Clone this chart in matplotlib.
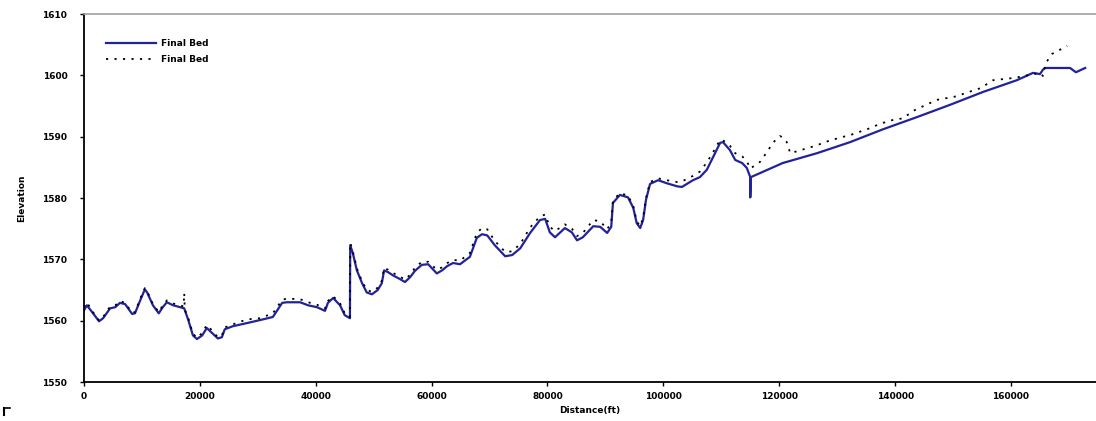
import matplotlib
matplotlib.use("Agg")
import matplotlib.pyplot as plt
from matplotlib.lines import Line2D

# ---------------- data ----------------
bed1_dist = [0, 500, 1400, 2600, 3300, 4500, 5400, 6200, 7100, 8300, 8800, 9700, 10500, 10900,
             11900, 12900, 13600, 14300, 15400, 16600, 17300, 18000, 18800, 19500, 20400, 21200,
             22100, 23100, 23800, 24300, 25700, 28100, 30400, 32600, 34200, 35000, 37300, 38700,
             40200, 41600, 42100, 43000, 44200, 45000, 45900, 45950, 46400, 47100, 48000, 48800,
             49700, 50700, 51400, 51800, 52500, 53300, 54500, 55400, 56300, 57100, 58300, 59400,
             60200, 60900, 61800, 62700, 63700, 64900, 66600, 67800, 68700, 69600, 70900, 72700,
             73900, 75300, 77000, 78700, 79600, 80400, 81300, 83000, 84200, 85100, 86100, 87900,
             89100, 90300, 91000, 91300, 92500, 93900, 94800, 95400, 96000, 96500, 97000, 97700,
             99100, 100600, 102400, 103200, 105100, 106300, 107500, 108600, 109800, 110300, 111500,
             112400, 113600, 114400, 115000, 115000, 115100, 120600, 126500, 132200, 137900,
             143800, 149500, 155200, 161000, 163800, 165000, 165500, 165900, 170200, 171200, 172800]
bed1_elev = [1561.7, 1562.5, 1561.4, 1559.9, 1560.4, 1562.0, 1562.2, 1562.9, 1562.7, 1561.1, 1561.2,
             1563.3, 1565.1, 1564.6, 1562.5, 1561.2, 1562.2, 1563.0, 1562.5, 1562.2, 1562.0, 1560.1,
             1557.6, 1557.0, 1557.6, 1558.8, 1558.0, 1557.1, 1557.3, 1558.6, 1559.1, 1559.6, 1560.1,
             1560.6, 1562.9, 1563.0, 1563.0, 1562.5, 1562.2, 1561.6, 1562.9, 1563.7, 1562.5, 1560.9,
             1560.4, 1572.3, 1571.0, 1568.2, 1566.1, 1564.6, 1564.3, 1565.0, 1566.1, 1568.2, 1567.9,
             1567.4, 1566.8, 1566.3, 1567.1, 1568.1, 1569.1, 1569.2, 1568.4, 1567.7, 1568.2, 1568.9,
             1569.4, 1569.2, 1570.4, 1573.5, 1574.1, 1573.9, 1572.3, 1570.5, 1570.7, 1571.8, 1574.3,
             1576.4, 1576.6, 1574.4, 1573.6, 1575.1, 1574.4, 1573.1, 1573.6, 1575.4, 1575.3, 1574.3,
             1575.3, 1579.2, 1580.5, 1580.1, 1578.4, 1575.9, 1575.1, 1576.4, 1579.7, 1582.3, 1582.9,
             1582.4, 1581.9, 1581.8, 1582.9, 1583.4, 1584.6, 1586.7, 1589.0, 1589.1, 1587.8, 1586.2,
             1585.7, 1584.9, 1583.4, 1580.1, 1583.4, 1585.7, 1587.3, 1589.1, 1591.2, 1593.2, 1595.2,
             1597.3, 1599.2, 1600.4, 1600.2, 1600.9, 1601.2, 1601.2, 1600.5, 1601.2]

bed2_dist = [0, 500, 1400, 2600, 3300, 4500, 5400, 6200, 7100, 8300, 8800, 9700, 10500, 10900,
             11900, 12900, 13600, 14300, 15400, 16600, 17200, 17300, 17400, 18000, 18800, 19500,
             20400, 21200, 22100, 23100, 23800, 24300, 25700, 28100, 30400, 32600, 34200, 35000,
             37300, 38700, 40200, 41600, 42100, 43000, 44200, 45000, 45900, 45950, 46400, 47100,
             48000, 48800, 49700, 50700, 51400, 51800, 52500, 53300, 54500, 55400, 56300, 57100,
             58300, 59400, 60200, 60900, 61800, 62700, 63700, 64900, 66600, 67800, 68700, 69600,
             70900, 72700, 73900, 75300, 77000, 78700, 79600, 80400, 81300, 83000, 84200, 85100,
             86100, 87900, 89100, 90300, 91000, 91300, 92500, 93900, 94800, 95400, 96000, 96500,
             97000, 97700, 99100, 100600, 102400, 103200, 105100, 106300, 107500, 108600, 109800,
             110300, 111500, 112400, 113600, 114400, 115000, 116700, 118100, 118900, 120100,
             120600, 121300, 121900, 126200, 128800, 132700, 135700, 137400, 139500, 141400,
             143100, 147200, 150700, 152100, 154700, 156900, 160700, 162900, 165000, 165500,
             166000, 167100, 169700]
bed2_elev = [1562.2, 1563.0, 1561.6, 1560.0, 1560.6, 1562.3, 1562.5, 1563.2, 1562.9, 1561.3, 1561.4,
             1563.6, 1565.3, 1564.8, 1562.7, 1561.4, 1562.5, 1563.3, 1562.8, 1562.5, 1562.3, 1564.5,
             1561.8, 1560.4, 1557.9, 1557.2, 1558.0, 1559.3, 1558.4, 1557.3, 1557.6, 1558.9, 1559.4,
             1560.2, 1560.4, 1561.2, 1563.4, 1563.6, 1563.5, 1563.0, 1562.6, 1562.0, 1563.2, 1564.0,
             1562.8, 1561.2, 1560.6, 1572.7, 1571.3, 1568.5, 1566.4, 1565.0, 1564.7, 1565.4, 1566.5,
             1568.6, 1568.3, 1567.8, 1567.2, 1566.7, 1567.5, 1568.6, 1569.6, 1569.6, 1568.9, 1568.3,
             1568.7, 1569.4, 1569.9, 1569.8, 1571.0, 1574.3, 1575.1, 1574.9, 1573.0, 1571.2, 1571.3,
             1572.5, 1575.2, 1577.0, 1577.3, 1575.3, 1574.6, 1575.7, 1575.0, 1573.8, 1574.3, 1576.4,
             1576.2, 1574.9, 1576.0, 1579.6, 1580.8, 1580.4, 1578.7, 1576.2, 1575.4, 1576.8, 1580.0,
             1582.6, 1583.2, 1582.9, 1582.6, 1582.7, 1583.6, 1584.3, 1585.8, 1587.5, 1589.5, 1589.4,
             1588.5, 1587.3, 1586.8, 1586.0, 1584.8, 1585.9, 1587.8, 1589.0, 1590.1, 1589.9, 1589.1,
             1587.3, 1588.5, 1589.4, 1590.4, 1591.4, 1592.1, 1592.7, 1593.0, 1594.2, 1596.0, 1596.6,
             1597.1, 1597.9, 1599.2, 1599.6, 1600.0, 1600.4, 1599.9, 1602.0, 1603.5, 1604.8]

series_labels = ["Final Bed", "Final Bed"]
x_ticks = [0, 20000, 40000, 60000, 80000, 100000, 120000, 140000, 160000]
y_ticks = [1550, 1560, 1570, 1580, 1590, 1600, 1610]

# ---------------- figure ----------------
W, H = 1096, 421
fig = plt.figure(figsize=(W / 100, H / 100), dpi=100)
ax_left, ax_right, ax_top, ax_bottom = 84, 1096, 14, 382
ax = fig.add_axes([ax_left / W, 1 - ax_bottom / H, (ax_right - ax_left) / W, (ax_bottom - ax_top) / H])

ax.plot(bed1_dist, bed1_elev, color="#22229a", lw=1.6, label=series_labels[0], zorder=2)
ax.plot(bed2_dist, bed2_elev, color="black", lw=1.3, linestyle=(0, (1.2, 3.5)),
        label=series_labels[1], zorder=3)

ax.set_xlim(0, (ax_right - ax_left) * 172.6)
ax.set_ylim(1550, 1610)
ax.set_xticks(x_ticks)
ax.set_yticks(y_ticks)
ax.set_xticklabels([str(v) for v in x_ticks])
ax.set_yticklabels([str(v) for v in y_ticks])

ax.tick_params(axis="both", direction="out", length=3, width=1, labelsize=6.5, colors="black")
ax.tick_params(axis="y", pad=9)
ax.tick_params(axis="x", pad=4)
for lab in ax.get_xticklabels() + ax.get_yticklabels():
    lab.set_fontweight("bold")

ax.spines["right"].set_visible(False)
ax.spines["top"].set_color("#a0a0a0")
ax.spines["top"].set_linewidth(1.2)
ax.spines["left"].set_linewidth(1.3)
ax.spines["bottom"].set_linewidth(1.3)

ax.set_xlabel("Distance(ft)", fontsize=6.5, fontweight="bold", labelpad=4)
ax.set_ylabel("Elevation", fontsize=6.5, fontweight="bold", labelpad=12)

leg = ax.legend(loc="upper left", bbox_to_anchor=(0.022, 0.931), frameon=False,
                fontsize=6.5, handlelength=5.5, handletextpad=0.6, labelspacing=0.7,
                borderpad=0, borderaxespad=0)
for t in leg.get_texts():
    t.set_fontweight("bold")

# small stray mark in lower-left corner
fig.add_artist(Line2D([4 / W, 4 / W], [1 - 415 / H, 1 - 408 / H], transform=fig.transFigure,
                      color="black", lw=1.5))
fig.add_artist(Line2D([4 / W, 10 / W], [1 - 408 / H, 1 - 408 / H], transform=fig.transFigure,
                      color="black", lw=1.2))

fig.savefig("out.png", dpi=100, facecolor="white")
